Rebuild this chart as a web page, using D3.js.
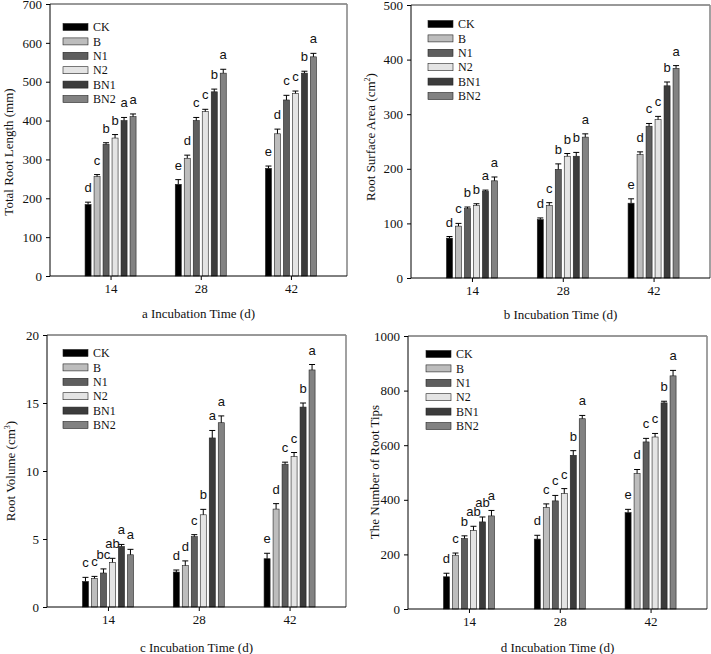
<!DOCTYPE html>
<html><head><meta charset="utf-8">
<script src="https://cdn.jsdelivr.net/npm/d3@7"></script>
<style>body{margin:0;background:#fff}svg{display:block}</style>
</head><body>
<svg id="chart" width="711" height="654"></svg>
<script>
const categories = [14, 28, 42];
const seriesNames = ["CK", "B", "N1", "N2", "BN1", "BN2"];
const seriesColors = ["#000000", "#bdbdbd", "#5e5e5e", "#e4e4e4", "#3c3c3c", "#828282"];

// rows = series (CK,B,N1,N2,BN1,BN2), cols = days 14, 28, 42
const lengthMean = [[184,236,277],[256,303,366],[339,400,453],[355,423,470],[400,474,522],[410,522,564]];
const lengthErr  = [[6,12,6],[5,8,12],[4,8,12],[9,6,6],[8,7,5],[7,10,9]];
const lengthLetters = [["d","e","e"],["c","d","d"],["b","c","c"],["b","c","c"],["a","b","b"],["a","a","a"]];
const lengthTicks = [0,100,200,300,400,500,600,700];

const areaMean = [[73,107,137],[95,133,226],[127,199,278],[133,223,290],[159,223,352],[178,258,384]];
const areaErr  = [[3,3,8],[5,5,5],[3,10,5],[3,5,6],[2,7,7],[7,6,5]];
const areaLetters = [["d","d","e"],["c","c","d"],["b","b","c"],["b","b","c"],["a","b","b"],["a","a","a"]];
const areaTicks = [0,100,200,300,400,500];

const volumeMean = [[1.88,2.57,3.55],[2.1,3.04,7.2],[2.5,5.17,10.5],[3.28,6.78,11.06],[4.45,12.43,14.7],[3.84,13.55,17.43]];
const volumeErr  = [[0.3,0.15,0.4],[0.15,0.35,0.4],[0.3,0.15,0.15],[0.3,0.4,0.3],[0.15,0.55,0.3],[0.4,0.5,0.4]];
const volumeLetters = [["c","d","e"],["c","d","d"],["bc","c","c"],["ab","b","c"],["a","a","b"],["a","a","a"]];
const volumeTicks = [0,5,10,15,20];

const tipsMean = [[118,256,353],[197,372,496],[258,396,612],[288,423,630],[319,563,755],[341,697,854]];
const tipsErr  = [[13,14,12],[8,13,15],[10,20,13],[15,18,13],[18,17,6],[20,12,20]];
const tipsLetters = [["d","d","e"],["c","c","d"],["b","c","c"],["ab","c","c"],["ab","b","b"],["a","a","a"]];
const tipsTicks = [0,200,400,600,800,1000];

const panels = [
  {mean:lengthMean, err:lengthErr, letters:lengthLetters, ticks:lengthTicks, max:700,
   box:{l:50,r:347,t:4,b:276}, ytitle:["Total  Root Length (mm)"], ytx:8, yty:152,
   xtitle:"a Incubation Time (d)", xty:318, legend:{x:63,y:27}},
  {mean:areaMean, err:areaErr, letters:areaLetters, ticks:areaTicks, max:500,
   box:{l:411,r:710,t:5,b:278}, ytitle:["Root Surface Area (cm","2",")"], ytx:370, yty:137,
   xtitle:"b Incubation Time (d)", xty:319, legend:{x:428,y:24}},
  {mean:volumeMean, err:volumeErr, letters:volumeLetters, ticks:volumeTicks, max:20,
   box:{l:47,r:346,t:335,b:607}, ytitle:["Root Volume (cm","3",")"], ytx:10, yty:471,
   xtitle:"c Incubation Time (d)", xty:652, legend:{x:63,y:353}},
  {mean:tipsMean, err:tipsErr, letters:tipsLetters, ticks:tipsTicks, max:1000,
   box:{l:408,r:707,t:336,b:609}, ytitle:["The Number of Root Tips"], ytx:374, yty:472,
   xtitle:"d Incubation Time (d)", xty:652, legend:{x:426,y:354}}
];

const svg = d3.select("#chart");
const serif = "'Liberation Serif','Times New Roman',serif";
const sans = "'Liberation Sans',Arial,sans-serif";

panels.forEach(p => {
  const B = p.box;
  const g = svg.append("g");
  const x = d3.scaleLinear().domain([4.6, 50.7]).range([B.l, B.r]);
  const inner = d3.scaleBand().domain(seriesNames).range([-25.5, 25.5]).paddingInner(0.33);
  const y = d3.scaleLinear().domain([0, p.max]).range([B.b, B.t]);

  // frame top & right
  g.append("line").attr("x1",B.l).attr("x2",B.r).attr("y1",B.t).attr("y2",B.t)
    .attr("stroke","#333").attr("stroke-width",1);
  g.append("line").attr("x1",B.r).attr("x2",B.r).attr("y1",B.t).attr("y2",B.b)
    .attr("stroke","#8a8a8a").attr("stroke-width",1.6);

  // bars
  seriesNames.forEach((s, si) => {
    categories.forEach((c, ci) => {
      const v = p.mean[si][ci], e = p.err[si][ci];
      const bx = x(c) + inner(s);
      const bw = inner.bandwidth();
      g.append("rect").attr("x", bx).attr("y", y(v)).attr("width", bw)
        .attr("height", y(0) - y(v)).attr("fill", seriesColors[si])
        .attr("stroke", "#222").attr("stroke-width", 0.6);
      const cx = bx + bw / 2;
      g.append("line").attr("x1",cx).attr("x2",cx).attr("y1",y(v)).attr("y2",y(v+e))
        .attr("stroke","#000").attr("stroke-width",1);
      g.append("line").attr("x1",cx-3).attr("x2",cx+3).attr("y1",y(v+e)).attr("y2",y(v+e))
        .attr("stroke","#000").attr("stroke-width",1);
      g.append("text").attr("x", cx).attr("y", y(v+e) - 10)
        .attr("text-anchor","middle").attr("font-family", sans).attr("font-size", 13)
        .attr("fill","#111").text(p.letters[si][ci]);
    });
  });

  // axes
  const yAxis = d3.axisLeft(y).tickValues(p.ticks).tickSize(4).tickPadding(4).tickFormat(d3.format("d"));
  const ya = g.append("g").attr("transform", `translate(${B.l},0)`).call(yAxis);
  const xAxis = d3.axisBottom(x).tickValues(categories).tickSize(4).tickPadding(4).tickFormat(d3.format("d"));
  const xa = g.append("g").attr("transform", `translate(0,${B.b})`).call(xAxis);
  [ya, xa].forEach(a => {
    a.select(".domain").attr("stroke","#000");
    a.selectAll(".tick line").attr("stroke","#000");
    a.selectAll("text").attr("font-family", serif).attr("font-size", 13).attr("fill","#111");
  });
  xa.select(".domain").attr("d", `M${B.l},0H${B.r}`);
  ya.select(".domain").attr("d", `M0,${B.b}V${B.t}`);

  // titles
  g.append("text").attr("x", (B.l + B.r) / 2).attr("y", p.xty).attr("text-anchor","middle")
    .attr("font-family", serif).attr("font-size", 13).attr("fill","#111").text(p.xtitle);
  const yt = g.append("text").attr("transform", `translate(${p.ytx},${p.yty}) rotate(-90)`)
    .attr("text-anchor","middle").attr("dy","0.35em")
    .attr("font-family", serif).attr("font-size", 13).attr("fill","#111");
  yt.append("tspan").text(p.ytitle[0]);
  if (p.ytitle.length > 1) {
    yt.append("tspan").attr("font-size", 8).attr("dy", -5).text(p.ytitle[1]);
    yt.append("tspan").attr("dy", 5).text(p.ytitle[2]);
  }

  // legend
  const lg = g.append("g").attr("transform", `translate(${p.legend.x},${p.legend.y})`);
  seriesNames.forEach((s, si) => {
    const row = lg.append("g").attr("transform", `translate(0,${si * 14.4})`);
    row.append("rect").attr("x",0).attr("y",-3.5).attr("width",25).attr("height",7)
      .attr("fill", seriesColors[si]).attr("stroke","#222").attr("stroke-width",0.6);
    row.append("text").attr("x",30).attr("y",0).attr("dy","0.35em")
      .attr("font-family", serif).attr("font-size", 12).attr("fill","#111").text(s);
  });
});
</script>
</body></html>
